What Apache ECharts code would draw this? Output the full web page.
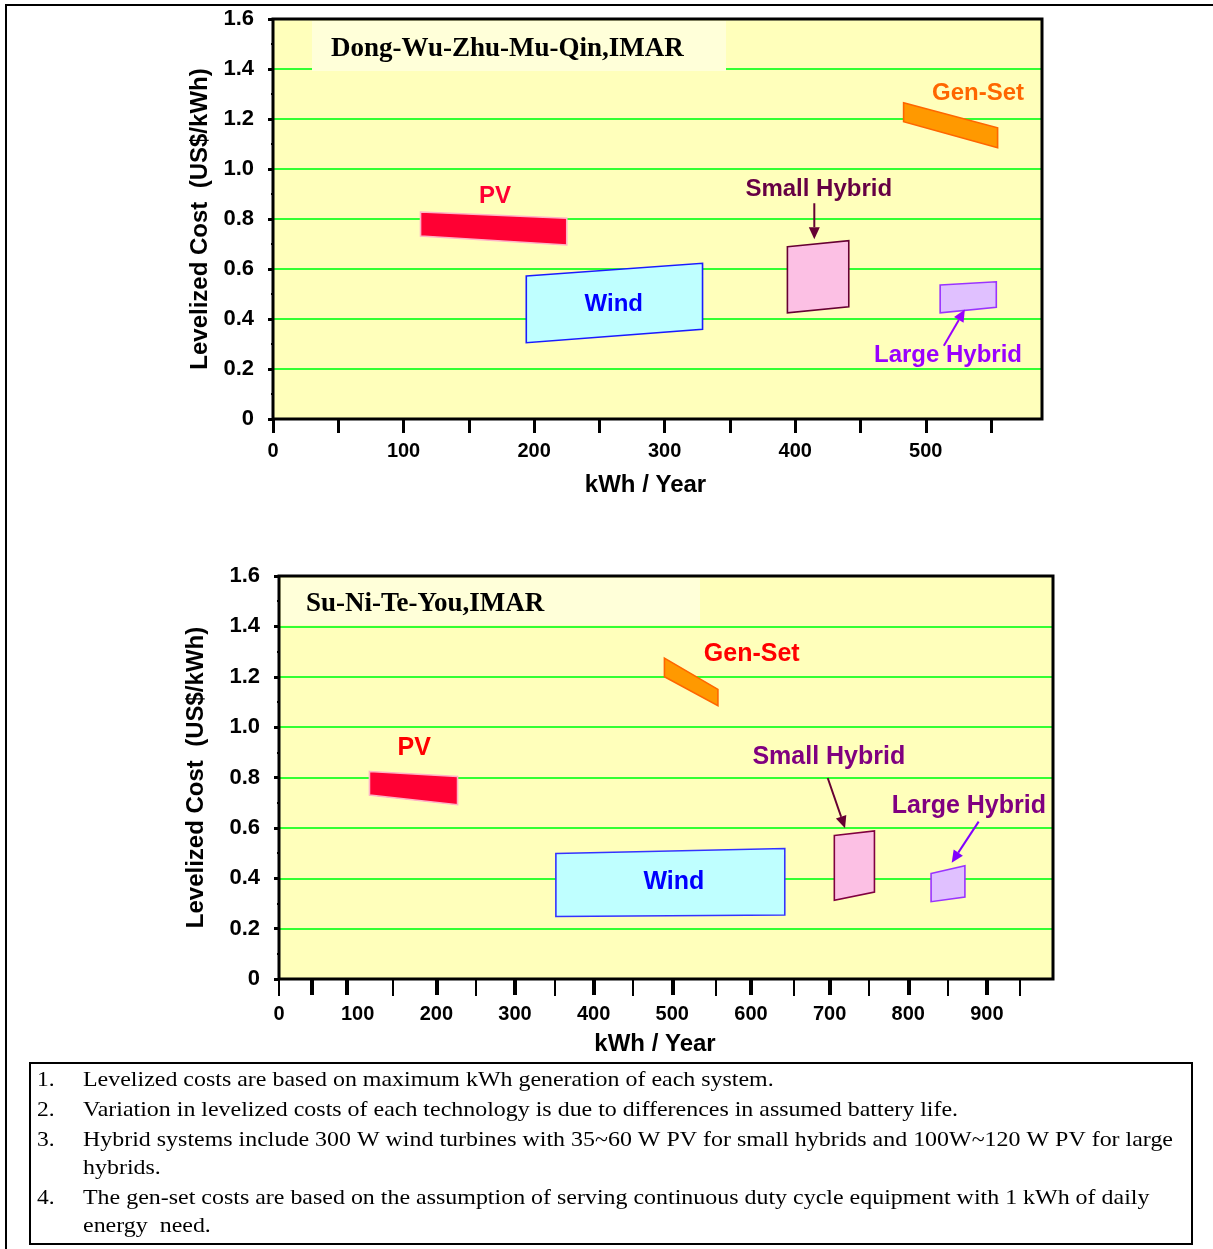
<!DOCTYPE html>
<html><head><meta charset="utf-8">
<script src="https://cdn.jsdelivr.net/npm/echarts@6/dist/echarts.min.js"></script>
<style>html,body{margin:0;padding:0;background:#fff}#c{width:1213px;height:1249px}</style>
</head><body><div id="c"></div>
<script>
// ---------------- data ----------------
const SHAPE_NAMES = ['PV', 'Wind', 'Gen-Set', 'Small Hybrid', 'Large Hybrid'];

// Top chart: Dong-Wu-Zhu-Mu-Qin
const TOP_TITLE = 'Dong-Wu-Zhu-Mu-Qin,IMAR';
const TOP_X_TICKS = [0, 50, 100, 150, 200, 250, 300, 350, 400, 450, 500, 550];
const TOP_X_LABELS = [0, 100, 200, 300, 400, 500];
const TOP_PV = [[113, 0.828], [225, 0.803], [225, 0.696], [113, 0.732]];
const TOP_WIND = [[194, 0.572], [329, 0.623], [329, 0.359], [194, 0.305]];
const TOP_GENSET = [[483, 1.265], [555, 1.165], [555, 1.085], [483, 1.189]];
const TOP_SMALL_HYBRID = [[394, 0.689], [441, 0.713], [441, 0.449], [394, 0.425]];
const TOP_LARGE_HYBRID = [[511, 0.536], [554, 0.549], [554, 0.447], [511, 0.425]];
const TOP_LABEL_POS = [[170, 0.892], [261, 0.46], [540, 1.304], [418, 0.92], [517, 0.256]];
const TOP_ARROWS = [[[414.6, 0.863], [414.6, 0.719]], [[513.8, 0.293], [529.9, 0.438]]];

// Bottom chart: Su-Ni-Te-You
const BOT_TITLE = 'Su-Ni-Te-You,IMAR';
const BOT_X_TICKS_MAJOR = [42, 86, 200, 300, 400, 500, 600, 700, 800, 900];
const BOT_X_TICKS_MINOR = [0, 145, 250, 350, 450, 555, 655, 750, 850, 942];
const BOT_X_LABELS = [0, 100, 200, 300, 400, 500, 600, 700, 800, 900];
const BOT_PV = [[115, 0.824], [227, 0.804], [227, 0.692], [115, 0.730]];
const BOT_WIND = [[352, 0.498], [643, 0.518], [643, 0.254], [352, 0.248]];
const BOT_GENSET = [[490, 1.274], [558, 1.150], [558, 1.085], [490, 1.200]];
const BOT_SMALL_HYBRID = [[706, 0.570], [757, 0.588], [757, 0.345], [706, 0.313]];
const BOT_LARGE_HYBRID = [[829, 0.419], [872, 0.450], [872, 0.325], [829, 0.307]];
const BOT_LABEL_POS = [[172, 0.915], [502, 0.386], [601, 1.288], [699, 0.879], [877, 0.688]];
const BOT_ARROWS = [[[697.6, 0.798], [719.6, 0.599]], [[889.5, 0.625], [855.2, 0.462]]];

const Y_MIN = 0, Y_MAX = 1.6, Y_STEP = 0.2;
const NOTES = [
  ['1.', 'Levelized costs are based on maximum kWh generation of each system.'],
  ['2.', 'Variation in levelized costs of each technology is due to differences in assumed battery life.'],
  ['3.', 'Hybrid systems include 300 W wind turbines with 35~60 W PV for small hybrids and 100W~120 W PV for large'],
  ['', 'hybrids.'],
  ['4.', 'The gen-set costs are based on the assumption of serving continuous duty cycle equipment with 1 kWh of daily'],
  ['', 'energy  need.']
];

// ---------------- styles ----------------
const SANS = '"Liberation Sans", Arial, sans-serif';
const SERIF = '"Liberation Serif", "Times New Roman", serif';
const PLOT_BG = '#FFFFBB';
const GRID_GREEN = '#33FF33';
const TOP_FILL = ['#FF0033', '#BFFFFF', '#FF9900', '#FCC0E4', '#E0C0FF'];
const TOP_STROKE = ['#FFB3C6', '#1A1AFF', '#FF6600', '#660033', '#9933FF'];
const TOP_TEXT = ['#FF0033', '#0000FF', '#FF6600', '#660044', '#9900FF'];
const TOP_ARROW_COLORS = ['#660033', '#9900FF'];
const BOT_FILL = ['#FF0033', '#BFFFFF', '#FF9900', '#FCC0E4', '#E0C0FF'];
const BOT_STROKE = ['#FFB3C6', '#3333FF', '#FF6600', '#800040', '#9933FF'];
const BOT_TEXT = ['#FF0000', '#0000FF', '#FF0000', '#800080', '#800080'];
const BOT_ARROW_COLORS = ['#660033', '#8000FF'];

const TOP_GRID = { left: 273, top: 19, width: 769, height: 400 };
const BOT_GRID = { left: 279, top: 576, width: 774, height: 403 };
const TOP_X_MAX = 589, BOT_X_MAX = 984;

const TOP_SHAPES = [TOP_PV, TOP_WIND, TOP_GENSET, TOP_SMALL_HYBRID, TOP_LARGE_HYBRID];
const BOT_SHAPES = [BOT_PV, BOT_WIND, BOT_GENSET, BOT_SMALL_HYBRID, BOT_LARGE_HYBRID];

function yAxisOpt(gridIndex, nameGap) {
  return {
    type: 'value', gridIndex, min: Y_MIN, max: Y_MAX, interval: Y_STEP,
    name: 'Levelized Cost  (US$/kWh)', nameLocation: 'middle', nameGap, nameRotate: 90,
    nameTextStyle: { fontFamily: SANS, fontWeight: 'bold', fontSize: 24, color: '#000' },
    axisLine: { show: false },
    axisTick: { show: true, length: 5, lineStyle: { color: '#000', width: 3 } },
    minorTick: { show: true, splitNumber: 2, length: 2, lineStyle: { color: '#000', width: 2 } },
    axisLabel: {
      margin: 19, fontFamily: SANS, fontWeight: 'bold', fontSize: 22, color: '#000',
      formatter: v => (Math.abs(v) < 1e-9 ? '0' : v.toFixed(1))
    },
    splitLine: { show: true, showMinLine: false, showMaxLine: false, lineStyle: { color: GRID_GREEN, width: 2 } }
  };
}

function polySeries(xi, yi, shapes, fills, strokes) {
  return {
    type: 'custom', xAxisIndex: xi, yAxisIndex: yi, z: 3, silent: true,
    encode: { x: 0, y: 1 },
    data: shapes.map((s, i) => [s[0][0], s[0][1], i]),
    renderItem: (params, api) => {
      const i = api.value(2);
      const pts = shapes[i].map(p => api.coord(p));
      return { type: 'polygon', shape: { points: pts }, style: { fill: fills[i], stroke: strokes[i], lineWidth: 1.6 } };
    }
  };
}

function labelSeries(xi, yi, pos, colors, size) {
  return {
    type: 'custom', xAxisIndex: xi, yAxisIndex: yi, z: 5, silent: true,
    encode: { x: 0, y: 1 },
    data: pos.map((p, i) => [p[0], p[1], i]),
    renderItem: (params, api) => {
      const i = api.value(2);
      const c = api.coord([api.value(0), api.value(1)]);
      return {
        type: 'text', x: c[0], y: c[1],
        style: { text: SHAPE_NAMES[i], fill: colors[i], font: 'bold ' + size + 'px ' + SANS, align: 'center', verticalAlign: 'middle' }
      };
    }
  };
}

function arrowSeries(xi, yi, arrows, colors) {
  return {
    type: 'custom', xAxisIndex: xi, yAxisIndex: yi, z: 6, silent: true,
    encode: { x: 0, y: 1 },
    data: arrows.map((a, i) => [a[0][0], a[0][1], i]),
    renderItem: (params, api) => {
      const i = api.value(2);
      const a = api.coord(arrows[i][0]);
      const b = api.coord(arrows[i][1]);
      const dx = b[0] - a[0], dy = b[1] - a[1];
      const len = Math.sqrt(dx * dx + dy * dy);
      const ux = dx / len, uy = dy / len;
      const hl = 12, hw = 5.5;
      const base = [b[0] - ux * hl, b[1] - uy * hl];
      const p1 = [base[0] - uy * hw, base[1] + ux * hw];
      const p2 = [base[0] + uy * hw, base[1] - ux * hw];
      return {
        type: 'group',
        children: [
          { type: 'line', shape: { x1: a[0], y1: a[1], x2: base[0], y2: base[1] }, style: { stroke: colors[i], lineWidth: 2 } },
          { type: 'polygon', shape: { points: [b, p1, p2] }, style: { fill: colors[i] } }
        ]
      };
    }
  };
}

const xLabelStyle = { fontFamily: SANS, fontWeight: 'bold', fontSize: 20, color: '#000' };
const xNameStyle = { fontFamily: SANS, fontWeight: 'bold', fontSize: 24, color: '#000' };

const graphics = [
  // page frame
  { type: 'line', shape: { x1: 5, y1: 5, x2: 1213, y2: 5 }, style: { stroke: '#000', lineWidth: 2 }, z: 20 },
  { type: 'line', shape: { x1: 6, y1: 5, x2: 6, y2: 1249 }, style: { stroke: '#000', lineWidth: 2 }, z: 20 },
  // title boxes
  { type: 'rect', shape: { x: 312, y: 21, width: 414, height: 50 }, style: { fill: '#FFFFD9' }, z: 1 },
  { type: 'rect', shape: { x: 281, y: 578, width: 419, height: 47 }, style: { fill: '#FFFFD9' }, z: 1 },
  { type: 'text', x: 331, y: 49, style: { text: TOP_TITLE, font: 'bold 27px ' + SERIF, fill: '#000', verticalAlign: 'middle' }, z: 20 },
  { type: 'text', x: 306, y: 604, style: { text: BOT_TITLE, font: 'bold 27px ' + SERIF, fill: '#000', verticalAlign: 'middle' }, z: 20 },
  // plot borders
  { type: 'rect', shape: { x: TOP_GRID.left, y: TOP_GRID.top, width: TOP_GRID.width, height: TOP_GRID.height }, style: { fill: null, stroke: '#000', lineWidth: 3 }, z: 20 },
  { type: 'rect', shape: { x: BOT_GRID.left, y: BOT_GRID.top, width: BOT_GRID.width, height: BOT_GRID.height }, style: { fill: null, stroke: '#000', lineWidth: 3 }, z: 20 },
  // notes box
  { type: 'rect', shape: { x: 30, y: 1063, width: 1162, height: 181 }, style: { fill: null, stroke: '#000', lineWidth: 2 }, z: 20 }
];
const NOTE_Y = [1080, 1110, 1140, 1168, 1198, 1226];
NOTES.forEach((n, i) => {
  if (n[0]) graphics.push({ type: 'text', x: 37, y: NOTE_Y[i], scaleX: 1.12, style: { text: n[0], font: '21px ' + SERIF, fill: '#000', verticalAlign: 'middle' }, z: 20 });
  graphics.push({ type: 'text', x: 83, y: NOTE_Y[i], scaleX: 1.14, style: { text: n[1], font: '21px ' + SERIF, fill: '#000', verticalAlign: 'middle' }, z: 20 });
});

const option = {
  animation: false,
  backgroundColor: '#fff',
  grid: [
    Object.assign({ show: true, backgroundColor: PLOT_BG, borderWidth: 0 }, TOP_GRID),
    Object.assign({ show: true, backgroundColor: PLOT_BG, borderWidth: 0 }, BOT_GRID)
  ],
  xAxis: [
    {
      type: 'value', gridIndex: 0, min: 0, max: TOP_X_MAX, position: 'bottom',
      name: 'kWh / Year', nameLocation: 'middle', nameGap: 54,
      nameTextStyle: Object.assign({ padding: [0, 24, 0, 0] }, xNameStyle),
      axisLine: { show: false },
      axisTick: { show: true, customValues: TOP_X_TICKS, length: 14, lineStyle: { color: '#000', width: 3 } },
      axisLabel: Object.assign({ customValues: TOP_X_LABELS, margin: 22 }, xLabelStyle),
      splitLine: { show: false }
    },
    {
      type: 'value', gridIndex: 1, min: 0, max: BOT_X_MAX, position: 'bottom',
      name: 'kWh / Year', nameLocation: 'middle', nameGap: 53,
      nameTextStyle: Object.assign({ padding: [0, 22, 0, 0] }, xNameStyle),
      axisLine: { show: false },
      axisTick: { show: true, customValues: BOT_X_TICKS_MAJOR, length: 16, lineStyle: { color: '#000', width: 4 } },
      axisLabel: Object.assign({ customValues: BOT_X_LABELS, margin: 25 }, xLabelStyle),
      splitLine: { show: false }
    },
    {
      type: 'value', gridIndex: 1, min: 0, max: BOT_X_MAX, position: 'bottom',
      axisLine: { show: false },
      axisTick: { show: true, customValues: BOT_X_TICKS_MINOR, length: 17, lineStyle: { color: '#000', width: 2 } },
      axisLabel: { show: false },
      splitLine: { show: false }
    }
  ],
  yAxis: [yAxisOpt(0, 60), yAxisOpt(1, 71)],
  graphic: graphics,
  series: [
    polySeries(0, 0, TOP_SHAPES, TOP_FILL, TOP_STROKE),
    labelSeries(0, 0, TOP_LABEL_POS, TOP_TEXT, 24),
    arrowSeries(0, 0, TOP_ARROWS, TOP_ARROW_COLORS),
    polySeries(1, 1, BOT_SHAPES, BOT_FILL, BOT_STROKE),
    labelSeries(1, 1, BOT_LABEL_POS, BOT_TEXT, 25),
    arrowSeries(1, 1, BOT_ARROWS, BOT_ARROW_COLORS)
  ]
};

const chart = echarts.init(document.getElementById('c'), null, { renderer: 'canvas' });
chart.setOption(option);
</script>
</body></html>
